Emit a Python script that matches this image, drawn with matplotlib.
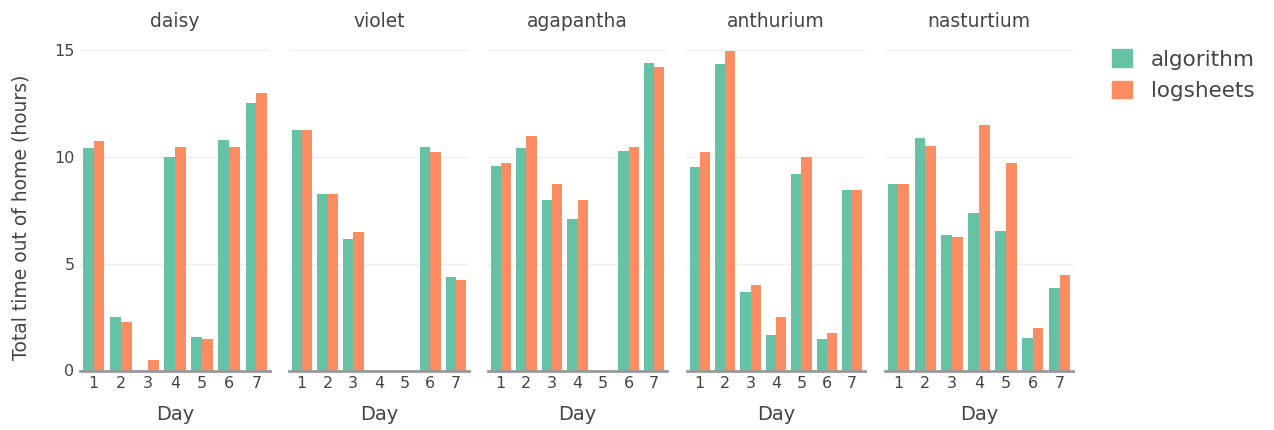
import matplotlib.pyplot as plt
from matplotlib.patches import Patch

plants = ["daisy", "violet", "agapantha", "anthurium", "nasturtium"]
days = [1, 2, 3, 4, 5, 6, 7]

algorithm = {
    "daisy":      [10.4, 2.5, 0.0, 9.98, 1.56, 10.79, 12.5],
    "violet":     [11.26, 8.25, 6.16, 0.0, 0.0, 10.46, 4.4],
    "agapantha":  [9.57, 10.4, 7.97, 7.08, 0.0, 10.29, 14.38],
    "anthurium":  [9.54, 14.33, 3.68, 1.67, 9.18, 1.48, 8.47],
    "nasturtium": [8.75, 10.9, 6.36, 7.39, 6.52, 1.51, 3.84],
}
logsheets = {
    "daisy":      [10.73, 2.25, 0.5, 10.48, 1.48, 10.48, 13.0],
    "violet":     [11.26, 8.25, 6.5, 0.0, 0.0, 10.23, 4.24],
    "agapantha":  [9.73, 10.98, 8.73, 7.98, 0.0, 10.48, 14.22],
    "anthurium":  [10.23, 14.97, 3.99, 2.49, 9.98, 1.75, 8.47],
    "nasturtium": [8.73, 10.49, 6.24, 11.48, 9.73, 2.01, 4.49],
}

green = "#66c2a5"
orange = "#fc8d62"
txt = "#444444"

W, H = 1274, 430
fig = plt.figure(figsize=(W / 100, H / 100), dpi=100)
plt.rcParams['font.family'] = ['DejaVu Sans']

# panel extents in pixels (left, right)
panels = [(80, 270), (289, 469), (488, 667), (687, 865), (885, 1073)]
y0_px, y1_px = 370.5, 33.0

axes = []
for k, name in enumerate(plants):
    l, r = panels[k]
    ax = fig.add_axes([l / W, (H - y0_px) / H, (r - l) / W, (y0_px - y1_px) / H])
    axes.append(ax)
    xs = [d - 0.2 for d in days]
    xs2 = [d + 0.2 for d in days]
    ax.bar(xs, algorithm[name], width=0.4, color=green, zorder=2)
    ax.bar(xs2, logsheets[name], width=0.4, color=orange, zorder=2)
    ax.set_xlim(0.5, 7.5)
    ax.set_ylim(0, 15.8)
    for s in ax.spines.values():
        s.set_visible(False)
    ax.axhline(0, color="#999999", lw=2, zorder=3, clip_on=False)
    ax.set_yticks([0, 5, 10, 15])
    ax.grid(axis="y", color="#eeeeee", lw=1, zorder=0)
    ax.set_xticks(days)
    ax.tick_params(length=0, labelsize=11.5, colors=txt, pad=4)
    if k > 0:
        ax.set_yticklabels([])
    ax.set_xlabel("Day", fontsize=14, color=txt, labelpad=10)
    ax.set_title(name, fontsize=13.5, color=txt, pad=4)

axes[0].set_ylabel("Total time out of home (hours)", fontsize=13.5, color=txt)
axes[0].yaxis.set_label_coords(-0.26, 0.455)

handles = [Patch(color=green, label="algorithm"), Patch(color=orange, label="logsheets")]
leg = fig.legend(handles=handles, loc="upper left", bbox_to_anchor=(1093 / W, 1 - 30 / H),
                 frameon=False, fontsize=15.5, handlelength=0.9, handleheight=0.9,
                 handletextpad=0.9, labelspacing=0.5)
for t in leg.get_texts():
    t.set_color(txt)

fig.savefig("out.png", dpi=100)
